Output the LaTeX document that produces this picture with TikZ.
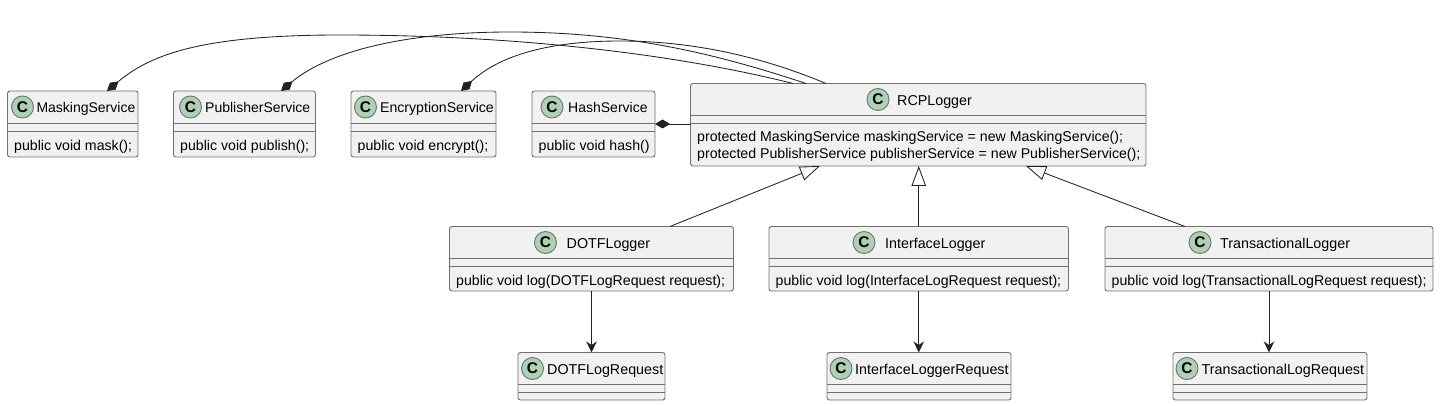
\documentclass[tikz,border=0pt]{standalone}
\usepackage{fontspec}
\setmainfont{Liberation Sans}
\usetikzlibrary{arrows.meta}
\definecolor{boxfill}{HTML}{F1F1F1}
\definecolor{boxline}{HTML}{707070}
\definecolor{spotfill}{HTML}{ADD1B2}
\definecolor{linkline}{HTML}{222222}
\begin{document}
\begin{tikzpicture}[
    x = 1pt,
    y = -1pt,
    classbox/.style = {
      draw = boxline,
      fill = boxfill,
      rounded corners = 2.5pt,
      line width = 0.9pt,
      inner sep = 0pt,
      outer sep = 0pt
    },
    spot/.style = {
      circle,
      draw = boxline,
      fill = spotfill,
      line width = 0.9pt,
      minimum size = 22pt,
      inner sep = 0pt,
      font = \fontsize{15.5}{16}\selectfont\bfseries
    },
    label/.style = {
      inner sep = 0pt,
      font = \fontsize{#1}{16}\selectfont
    },
    member/.style = {
      inner sep = 0pt,
      font = \fontsize{14.15}{16.6}\selectfont
    },
    rule/.style = {
      draw = boxline,
      line width = 0.9pt
    },
    link/.style = {
      draw = linkline,
      line width = 0.85pt
    },
    owned/.style = {
      link,
      {Diamond[length = 15pt, width = 9pt, fill = linkline]}-
    },
    extends/.style = {
      link,
      -{Triangle[open, length = 20pt, width = 14.5pt, fill = white]}
    },
    uses/.style = {
      link,
      -{Stealth[length = 11pt, width = 10.5pt, inset = 3.5pt]}
    }
  ]
    \useasboundingbox (0, 0) rectangle (1441, 406);

    \foreach \id/\lft/\rgt/\ytop/\yend/\spotx/\titlex/\fsize/\name in {
      mask/7.5/138/91/157/22.5/36.3/14/MaskingService,
      pub/173.5/315.5/91/157/190.5/205/14/PublisherService,
      enc/351/496/91/157/365.5/380/14.1/EncryptionService,
      hash/532/655/91/157/552/568/14/HashService,
      rcp/690.5/1146/83.5/166/878/897/14.3/RCPLogger,
      dotf/449.5/733.5/226.5/291/545.5/566.5/14.3/DOTFLogger,
      iface/769/1068.5/226.5/291/864/885/14.3/InterfaceLogger,
      trans/1105/1433/226.5/291/1200/1220/14.3/TransactionalLogger,
      dotfreq/518/665/352.5/400/532.5/547/14.3/DOTFLogRequest,
      ifacereq/827/1011/352.5/400/841/855/14.3/InterfaceLoggerRequest,
      transreq/1173/1367/352.5/400/1187/1201.5/14.3/TransactionalLogRequest
    } {
      \node[classbox, minimum width = \rgt-\lft, minimum height = \yend-\ytop]
        (\id) at ({(\lft+\rgt)/2}, {(\ytop+\yend)/2}) {};
      \draw[rule] (\id.west |- 0, \ytop+32) -- (\id.east |- 0, \ytop+32);
      \draw[rule] (\id.west |- 0, \ytop+40) -- (\id.east |- 0, \ytop+40);
      \node[spot] (\id-spot) at (\spotx, \ytop+16) {C};
      \node[label = \fsize, anchor = base west] (\id-title) at (\titlex, \ytop+22) {\name};
    }

    \foreach \id/\memb in {
      mask/{public void mask();},
      pub/{public void publish();},
      enc/{public void encrypt();},
      hash/{public void hash()},
      dotf/{public void log(DOTFLogRequest request);},
      iface/{public void log(InterfaceLogRequest request);},
      trans/{public void log(TransactionalLogRequest request);}
    } {
      \node[member, anchor = north west] (\id-member)
        at ([xshift = 6.5pt, yshift = -49pt]\id.north west) {\memb};
    }
    \node[member, anchor = north west, align = left] (rcp-member)
      at ([xshift = 6.5pt, yshift = -48pt]rcp.north west)
      {protected MaskingService maskingService = new MaskingService();\\
       protected PublisherService publisherService = new PublisherService();};

    \draw[owned] ([xshift = 34.25pt]mask.north) .. controls (150, 55) and (200, 35) .. (340, 35)
      .. controls (520, 35) and (680, 55) .. ([xshift = -125.25pt]rcp.north);
    \draw[owned] ([xshift = 36.5pt]pub.north) .. controls (330, 50) and (410, 32) .. (510, 32)
      .. controls (630, 32) and (720, 55) .. ([xshift = -112.25pt]rcp.north);
    \draw[owned] ([xshift = 37.5pt]enc.north) .. controls (500, 55) and (550, 41) .. (620, 41)
      .. controls (700, 41) and (770, 60) .. ([xshift = -92.25pt]rcp.north);
    \draw[owned] (hash.east |- 0, 124) -- (rcp.west |- 0, 124);

    \draw[extends] ([xshift = 78.5pt]dotf.north) -- ([xshift = -98.25pt]rcp.south);
    \draw[extends] (iface.north) -- (iface.north |- rcp.south);
    \draw[extends] ([xshift = -84pt]trans.north) -- ([xshift = 107.75pt]rcp.south);

    \draw[uses] (dotf.south) -- (dotf.south |- dotfreq.north);
    \draw[uses] (iface.south) -- (iface.south |- ifacereq.north);
    \draw[uses] (trans.south) -- (trans.south |- transreq.north);
  \end{tikzpicture}
\end{document}
